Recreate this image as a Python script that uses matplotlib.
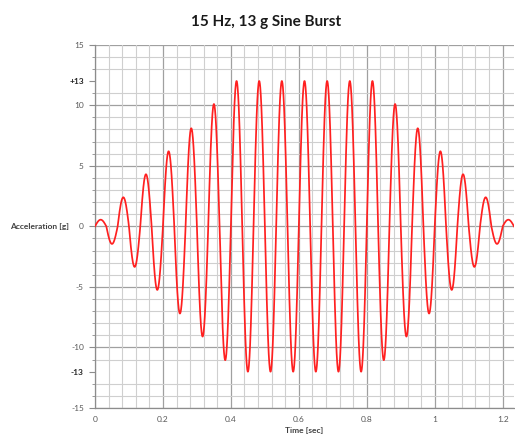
import numpy as np
import matplotlib
matplotlib.use("Agg")
import matplotlib.pyplot as plt
from matplotlib.ticker import MultipleLocator
import matplotlib.transforms as mtransforms

# ---- data ----
title = "15 Hz, 13 g Sine Burst"
freq_hz = 15
# signed peak value of each half cycle (as drawn on the axis scale)
half_cycle_peaks = [0.55, -1.45, 2.4, -3.35, 4.3, -5.25, 6.2, -7.2, 8.1, -9.1, 10.1, -11.05,
                    12.0, -12.0, 12.0, -12.0, 12.0, -12.0, 12.0, -12.0, 12.0, -12.0, 12.0, -12.0, 12.0,
                    -11.05, 10.1, -9.1, 8.1, -7.2, 6.2, -5.25, 4.3, -3.35, 2.4, -1.45, 0.55]
y_tick_values = [15, 12.0, 10, 5, 0, -5, -10, -12.0, -15]
y_tick_labels = ["15", "+13", "10", "5", "0", "-5", "-10", "-13", "-15"]
x_tick_values = [0, 0.2, 0.4, 0.6, 0.8, 1.0, 1.2]
x_tick_labels = ["0", "0.2", "0.4", "0.6", "0.8", "1", "1.2"]

# ---- build the sine burst from the half-cycle peaks ----
half_period = 1.0 / (2 * freq_hz)
ts, ys = [], []
for k, pk in enumerate(half_cycle_peaks):
    t = np.linspace(k * half_period, (k + 1) * half_period, 60)
    ts.append(t)
    ys.append(abs(pk) * np.sin(2 * np.pi * freq_hz * t))
t_all = np.concatenate(ts)
y_all = np.concatenate(ys)

plt.rcParams['font.family'] = ['Lato', 'DejaVu Sans']

fig = plt.figure(figsize=(5.15, 4.38), dpi=100)
ax = fig.add_axes([95 / 515, 1 - 408 / 438, 419 / 515, (408 - 44.7) / 438])

ax.set_xlim(0, len(half_cycle_peaks) * half_period)
ax.set_ylim(-15, 15)

# grid
ax.xaxis.set_minor_locator(MultipleLocator(0.04))
ax.yaxis.set_minor_locator(MultipleLocator(1))
ax.set_xticks(x_tick_values)
ax.set_xticklabels(x_tick_labels)
ax.set_yticks(y_tick_values)
ax.set_yticklabels(y_tick_labels)
ax.grid(which='minor', color='#cfcfcf', linewidth=0.8)
ax.xaxis.grid(True, which='major', color='#a0a0a0', linewidth=0.9)
for v in [-15, -10, -5, 0, 5, 10, 15]:
    ax.axhline(v, color='#a0a0a0', linewidth=0.9, zorder=0.5)
ax.set_axisbelow(True)

ax.plot(t_all, y_all, color='#ff2020', linewidth=1.25, zorder=3)

for s in ['top', 'right']:
    ax.spines[s].set_visible(False)
for s in ['left', 'bottom']:
    ax.spines[s].set_color('#8c8c8c')
    ax.spines[s].set_linewidth(0.9)

ax.tick_params(axis='x', which='both', length=0, labelsize=6, colors='#595959', pad=6)
ax.tick_params(axis='y', which='major', length=4, labelsize=6, colors='#595959', pad=4, color='#8c8c8c')
ax.tick_params(axis='y', which='minor', length=2, color='#8c8c8c')
for lbl in ax.get_yticklabels():
    if lbl.get_text() in ("+13", "-13"):
        lbl.set_fontweight('bold')
        lbl.set_color('#262626')

ax.set_xlabel("Time [sec]", fontsize=6, fontweight='bold', color='#404040', labelpad=3)
trans = mtransforms.blended_transform_factory(fig.transFigure, ax.transData)
ax.text(10 / 515, 0, "Acceleration [g]", transform=trans, fontsize=6, fontweight='bold',
        color='#404040', ha='left', va='center')

fig.text(266 / 515, 1 - 22 / 438, title, fontsize=11, fontweight='bold', color='#1a1a1a',
         ha='center', va='center')

fig.savefig("out.png", dpi=100)
